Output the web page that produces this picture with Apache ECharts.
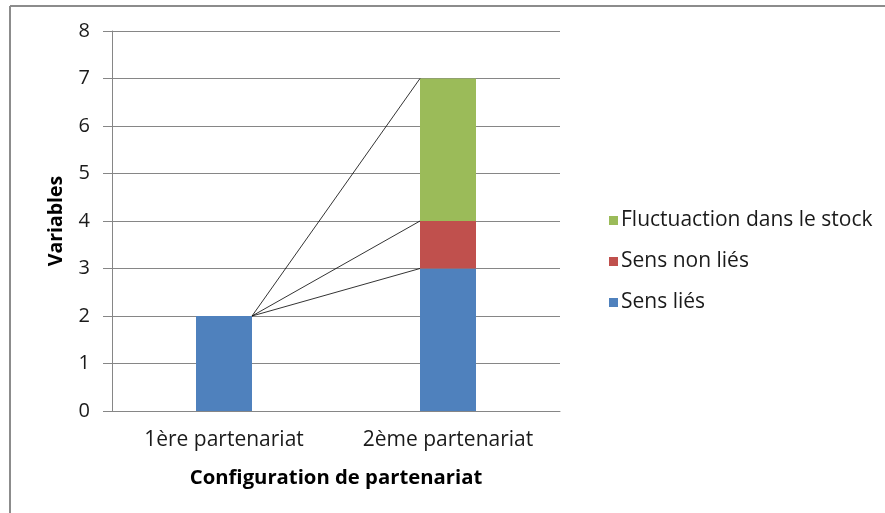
<!DOCTYPE html>
<html>
<head>
<meta charset="utf-8">
<script src="https://cdn.jsdelivr.net/npm/echarts@6/dist/echarts.min.js"></script>
<style>html,body{margin:0;padding:0;background:#fff;}#c{width:885px;height:513px;}</style>
</head>
<body>
<div id="c"></div>
<script>
const categories = ['1ère partenariat', '2ème partenariat'];
const sensLies = [2, 3];
const sensNonLies = [0, 1];
const fluctuation = [0, 3];
const yTicks = [0, 1, 2, 3, 4, 5, 6, 7, 8];

const FONT = 'Open Sans';
const seriesDefs = [
  { name: 'Sens liés', data: sensLies, color: '#4F81BD' },
  { name: 'Sens non liés', data: sensNonLies, color: '#C0504D' },
  { name: 'Fluctuaction dans le stock', data: fluctuation, color: '#9BBB59' }
];
const lineData = [];
{
  const cum = categories.map(() => 0);
  const tops = seriesDefs.map(s => s.data.map((v, i) => (cum[i] += v)));
  tops.forEach(t => {
    for (let i = 0; i < categories.length - 1; i++) lineData.push([i, t[i], t[i + 1]]);
  });
}
const BAR_FRAC = 0.25;
const chart = echarts.init(document.getElementById('c'));
chart.setOption({
  animation: false,
  backgroundColor: '#fff',
  textStyle: { fontFamily: FONT },
  graphic: [
    { type: 'line', shape: { x1: 10, y1: 6, x2: 885, y2: 6 }, style: { stroke: '#8c8c8c', lineWidth: 2 } },
    { type: 'line', shape: { x1: 10, y1: 6, x2: 10, y2: 513 }, style: { stroke: '#8c8c8c', lineWidth: 2 } }
  ],
  grid: { left: 112, right: 325, top: 31, bottom: 102 },
  legend: {
    orient: 'vertical', left: 604, top: 205, itemGap: 20,
    itemWidth: 9, itemHeight: 9, icon: 'rect',
    data: ['Fluctuaction dans le stock', 'Sens non liés', 'Sens liés'],
    textStyle: { fontFamily: FONT, fontSize: 21, color: '#1a1a1a', padding: [0, 0, 0, -2] }
  },
  xAxis: {
    type: 'category', data: categories,
    axisLine: { lineStyle: { color: '#868686', width: 1 } },
    axisTick: { show: false },
    axisLabel: { fontFamily: FONT, fontSize: 21, color: '#1a1a1a', margin: 19 },
    name: 'Configuration de partenariat', nameLocation: 'middle', nameGap: 57,
    nameTextStyle: { fontFamily: FONT, fontSize: 20.3, fontWeight: 'bold', color: '#000' }
  },
  yAxis: {
    type: 'value', min: yTicks[0], max: yTicks[yTicks.length - 1], interval: 1,
    axisLine: { show: true, lineStyle: { color: '#868686' } },
    axisTick: { show: true, inside: false, length: 9, lineStyle: { color: '#868686' } },
    splitLine: { lineStyle: { color: '#868686' } },
    axisLabel: { fontFamily: FONT, fontSize: 20, color: '#1a1a1a', margin: 22 },
    name: 'Variables', nameLocation: 'middle', nameGap: 46, nameRotate: 90,
    nameTextStyle: { fontFamily: FONT, fontSize: 19.5, fontWeight: 'bold', color: '#000' }
  },
  series: seriesDefs.map(s => ({
    type: 'bar', name: s.name, stack: 'a', data: s.data,
    barWidth: (BAR_FRAC * 100) + '%',
    itemStyle: { color: s.color }
  })).concat([{
    type: 'custom', name: 'lines', data: lineData, silent: true,
    encode: { x: 0, y: 1 },
    renderItem: function (params, api) {
      const i = api.value(0);
      const p1 = api.coord([i, api.value(1)]);
      const p2 = api.coord([i + 1, api.value(2)]);
      const hw = api.size([1, 0])[0] * BAR_FRAC / 2;
      return {
        type: 'line',
        shape: { x1: p1[0] + hw, y1: p1[1], x2: p2[0] - hw, y2: p2[1] },
        style: { stroke: '#000', lineWidth: 0.8 }
      };
    },
    z: 5
  }])
});
</script>
</body>
</html>
